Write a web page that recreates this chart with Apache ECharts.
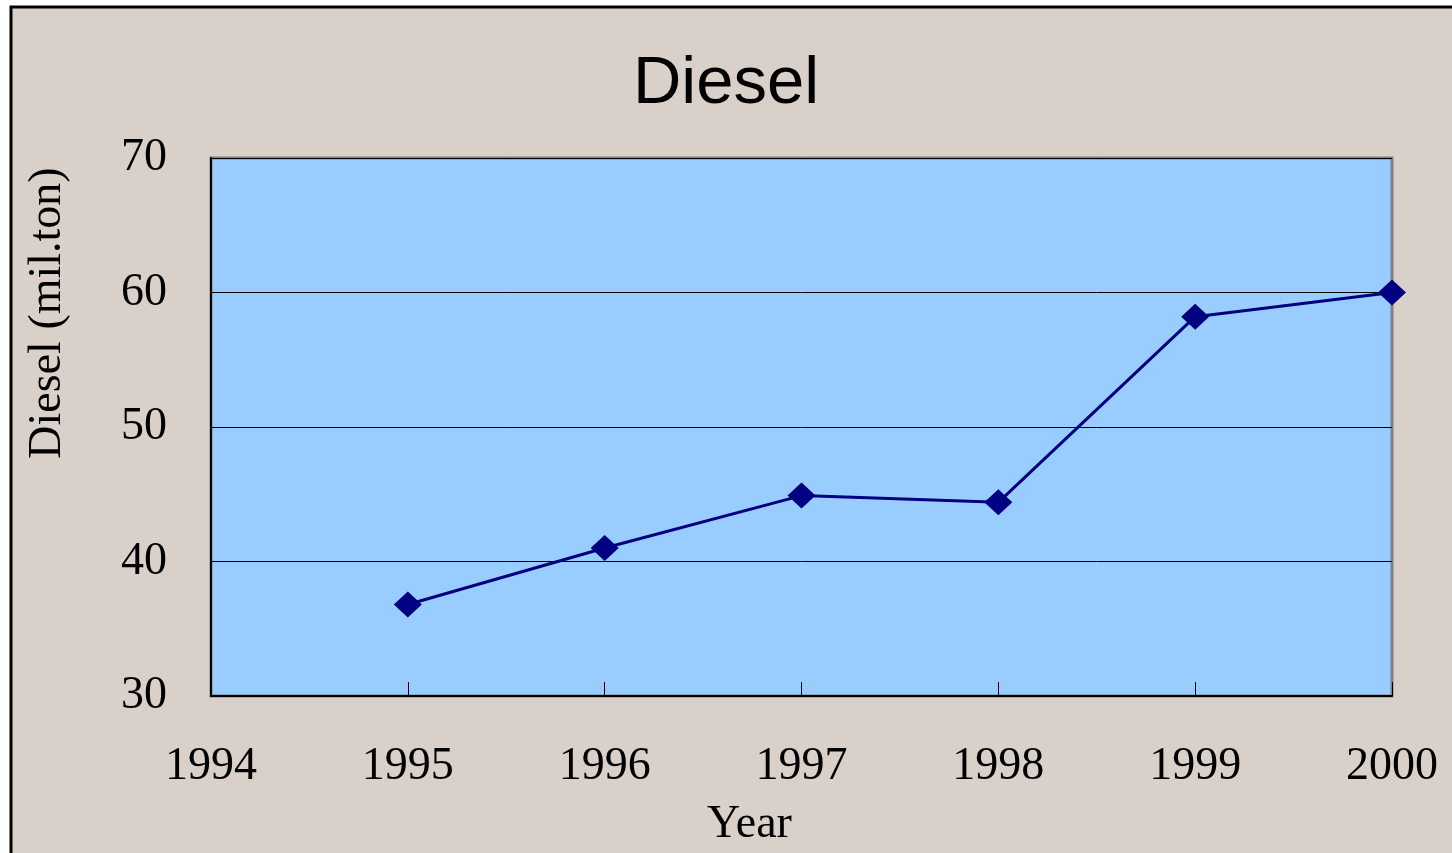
<!DOCTYPE html>
<html>
<head>
<meta charset="utf-8">
<script src="https://cdn.jsdelivr.net/npm/echarts@6/dist/echarts.min.js"></script>
<style>
  html, body { margin: 0; padding: 0; background: #fff; }
  #main { width: 1452px; height: 853px; }
</style>
</head>
<body>
<div id="main"></div>
<script>
// data
var years = [1995, 1996, 1997, 1998, 1999, 2000];
var diesel = [36.8, 41.0, 44.9, 44.4, 58.2, 60.0];

var chart = echarts.init(document.getElementById('main'));

var points = years.map(function (y, i) { return [y, diesel[i]]; });

var serif = '"Liberation Serif", "DejaVu Serif", serif';

var option = {
    backgroundColor: '#fff',
    animation: false,
    graphic: [{
        type: 'rect',
        z: -10,
        shape: { x: 11, y: 7, width: 1500, height: 900 },
        style: { fill: '#D9D0CA', stroke: '#000', lineWidth: 3 }
    }],
    title: {
        text: 'Diesel',
        left: 'center',
        top: 46,
        textStyle: {
            fontFamily: '"Liberation Sans", Arial, sans-serif',
            fontSize: 67,
            fontWeight: 'normal',
            color: '#000'
        }
    },
    grid: {
        left: 211, right: 60, top: 158, bottom: 156,
        show: true,
        backgroundColor: '#99CCFF',
        borderColor: '#808080',
        borderWidth: 3
    },
    xAxis: {
        type: 'value',
        min: 1994, max: 2000, interval: 1,
        name: 'Year',
        nameLocation: 'middle',
        nameGap: 106,
        nameTextStyle: { fontFamily: serif, fontSize: 46, color: '#000', padding: [0, 104, 0, 0] },
        axisLine: { show: true, lineStyle: { color: '#000', width: 2 } },
        axisTick: { show: true, inside: true, length: 14, lineStyle: { color: '#000', width: 1 } },
        axisLabel: {
            margin: 48,
            fontFamily: serif, fontSize: 46, color: '#000',
            showMaxLabel: true, showMinLabel: true,
            formatter: function (v) { return String(v); }
        },
        splitLine: { show: false }
    },
    yAxis: {
        type: 'value',
        min: 30, max: 70, interval: 10,
        name: 'Diesel (mil.ton)',
        nameLocation: 'middle',
        nameGap: 140,
        nameTextStyle: { fontFamily: serif, fontSize: 46, color: '#000', padding: [0, 0, 0, 228] },
        axisLine: { show: true, lineStyle: { color: '#000', width: 2 } },
        axisTick: { show: true, inside: true, length: 16, lineStyle: { color: '#000', width: 1 } },
        axisLabel: { margin: 44, fontFamily: serif, fontSize: 46, color: '#000', padding: [12, 0, 0, 0] },
        splitLine: { show: true, lineStyle: { color: '#000', width: 1 } }
    },
    series: [{
        type: 'line',
        data: points,
        symbol: 'diamond',
        symbolSize: [28, 26],
        lineStyle: { color: '#000080', width: 3 },
        itemStyle: { color: '#000080' }
    }]
};

chart.setOption(option);
window.addEventListener('resize', function () {
    chart.resize();
});
</script>
</body>
</html>
